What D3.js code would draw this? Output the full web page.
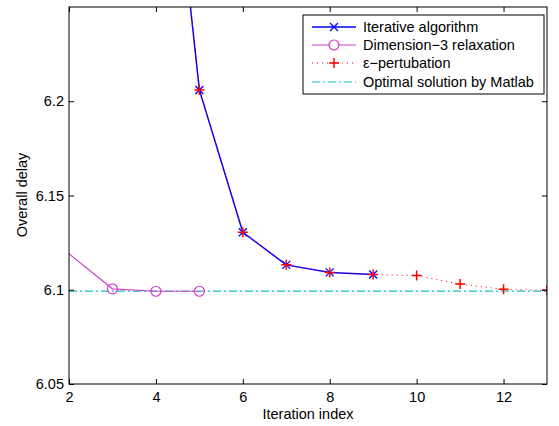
<!DOCTYPE html>
<html>
<head>
<meta charset="utf-8">
<script src="https://cdn.jsdelivr.net/npm/d3@7/dist/d3.min.js"></script>
<style>
  body { margin: 0; background: #fff; }
  svg text { font-family: "Liberation Sans", Arial, sans-serif; }
</style>
</head>
<body>
<svg id="chart"></svg>
<script>
// data
const iterX = [4, 5, 6, 7, 8, 9];
const iterY = [6.42, 6.206, 6.1305, 6.1132, 6.1092, 6.1081];

const dimX = [1, 3, 4, 5];
const dimY = [6.1376, 6.1005, 6.0992, 6.0992];

const epsX = [4, 5, 6, 7, 8, 9, 10, 11, 12, 13];
const epsY = [6.42, 6.206, 6.1305, 6.1132, 6.1092, 6.1081, 6.1075, 6.103, 6.1002, 6.0997];

const optX = [2, 13];
const optY = [6.0993, 6.0993];

const xTicks = [2, 4, 6, 8, 10, 12];
const yTicks = [6.05, 6.1, 6.15, 6.2];

const legendLabels = ["Iterative algorithm", "Dimension\u22123 relaxation", "\u03b5\u2212pertubation", "Optimal solution by Matlab"];

const W = 559, H = 426;
const mLeft = 69, mRight = 547, mTop = 7, mBottom = 384;
const fs = 14.5;

const svg = d3.select("#chart").attr("width", W).attr("height", H);

const x = d3.scaleLinear([2, 13], [mLeft, mRight]);
const y = d3.scaleLinear([6.05, 6.25], [mBottom, mTop]);

svg.append("defs").append("clipPath").attr("id", "clip")
  .append("rect").attr("x", mLeft).attr("y", mTop)
  .attr("width", mRight - mLeft).attr("height", mBottom - mTop);

const plot = svg.append("g").attr("clip-path", "url(#clip)");

const line = d3.line().x(d => x(d[0])).y(d => y(d[1]));
const zip = (a, b) => a.map((v, i) => [v, b[i]]);

const blue = "#0000ff", mag = "#cc44cc", red = "#ff0000", cyan = "#17bfbf";

// optimal solution
plot.append("path").datum(zip(optX, optY)).attr("d", line)
  .attr("fill", "none").attr("stroke", cyan).attr("stroke-width", 1.2)
  .attr("stroke-dasharray", "8,3,2,3");

// dimension-3
plot.append("path").datum(zip(dimX, dimY)).attr("d", line)
  .attr("fill", "none").attr("stroke", mag).attr("stroke-width", 1.2);
plot.selectAll(".dimc").data(zip(dimX, dimY)).join("circle")
  .attr("cx", d => x(d[0])).attr("cy", d => y(d[1])).attr("r", 5)
  .attr("fill", "none").attr("stroke", mag).attr("stroke-width", 1.2);

// iterative
plot.append("path").datum(zip(iterX, iterY)).attr("d", line)
  .attr("fill", "none").attr("stroke", blue).attr("stroke-width", 1.5);
const xMark = (g, d, s, c) => {
  g.append("path")
    .attr("d", `M${x(d[0]) - s},${y(d[1]) - s}L${x(d[0]) + s},${y(d[1]) + s}M${x(d[0]) - s},${y(d[1]) + s}L${x(d[0]) + s},${y(d[1]) - s}`)
    .attr("stroke", c).attr("stroke-width", 1.3);
};
const plusMark = (g, d, s, c) => {
  g.append("path")
    .attr("d", `M${x(d[0]) - s},${y(d[1])}L${x(d[0]) + s},${y(d[1])}M${x(d[0])},${y(d[1]) - s}L${x(d[0])},${y(d[1]) + s}`)
    .attr("stroke", c).attr("stroke-width", 1.5);
};
zip(iterX, iterY).forEach(d => xMark(plot, d, 4, blue));

// eps perturbation
plot.append("path").datum(zip(epsX, epsY)).attr("d", line)
  .attr("fill", "none").attr("stroke", red).attr("stroke-width", 1)
  .attr("stroke-dasharray", "1,4");
zip(epsX, epsY).forEach(d => plusMark(plot, d, 5, red));

// axes box
svg.append("rect").attr("x", mLeft).attr("y", mTop)
  .attr("width", mRight - mLeft).attr("height", mBottom - mTop)
  .attr("fill", "none").attr("stroke", "#000").attr("stroke-width", 1);

const xAxis = svg.append("g").attr("transform", `translate(0,${mBottom})`)
  .call(d3.axisBottom(x).tickValues(xTicks).tickSizeInner(-5).tickSizeOuter(0).tickPadding(7.5).tickFormat(d3.format("d")));
const xAxisTop = svg.append("g").attr("transform", `translate(0,${mTop})`)
  .call(d3.axisTop(x).tickValues(xTicks).tickSizeInner(-5).tickSizeOuter(0).tickFormat(""));
const yAxis = svg.append("g").attr("transform", `translate(${mLeft},0)`)
  .call(d3.axisLeft(y).tickValues(yTicks).tickSizeInner(-5).tickSizeOuter(0).tickPadding(5).tickFormat(d => String(+d.toFixed(2))));
const yAxisRight = svg.append("g").attr("transform", `translate(${mRight},0)`)
  .call(d3.axisRight(y).tickValues(yTicks).tickSizeInner(-5).tickSizeOuter(0).tickFormat(""));

[xAxis, xAxisTop, yAxis, yAxisRight].forEach(a => {
  a.select(".domain").remove();
  a.selectAll("text").attr("font-size", fs).attr("fill", "#000")
    .style("font-family", "'Liberation Sans', Arial, sans-serif");
});

svg.append("text").attr("x", 308).attr("y", 419)
  .attr("text-anchor", "middle").attr("font-size", fs).text("Iteration index");
svg.append("text").attr("transform", `translate(27,195) rotate(-90)`)
  .attr("text-anchor", "middle").attr("font-size", fs).text("Overall delay");

// legend
const lg = svg.append("g");
lg.append("rect").attr("x", 303).attr("y", 15).attr("width", 241).attr("height", 79)
  .attr("fill", "#fff").attr("stroke", "#000").attr("stroke-width", 1);
const rowsY = [27, 45, 63, 82];
const lx0 = 312, lx1 = 356, lxm = 334;
lg.append("line").attr("x1", lx0).attr("x2", lx1).attr("y1", rowsY[0]).attr("y2", rowsY[0])
  .attr("stroke", blue).attr("stroke-width", 1.5);
lg.append("path").attr("d", `M${lxm - 4},${rowsY[0] - 4}L${lxm + 4},${rowsY[0] + 4}M${lxm - 4},${rowsY[0] + 4}L${lxm + 4},${rowsY[0] - 4}`)
  .attr("stroke", blue).attr("stroke-width", 1.3);
lg.append("line").attr("x1", lx0).attr("x2", lx1).attr("y1", rowsY[1]).attr("y2", rowsY[1])
  .attr("stroke", mag).attr("stroke-width", 1.2);
lg.append("circle").attr("cx", lxm).attr("cy", rowsY[1]).attr("r", 5)
  .attr("fill", "#fff").attr("stroke", mag).attr("stroke-width", 1.2);
lg.append("line").attr("x1", lx0).attr("x2", lx1).attr("y1", rowsY[2]).attr("y2", rowsY[2])
  .attr("stroke", red).attr("stroke-width", 1).attr("stroke-dasharray", "1,4");
lg.append("path").attr("d", `M${lxm - 5},${rowsY[2]}L${lxm + 5},${rowsY[2]}M${lxm},${rowsY[2] - 5}L${lxm},${rowsY[2] + 5}`)
  .attr("stroke", red).attr("stroke-width", 1.5);
lg.append("line").attr("x1", lx0).attr("x2", lx1).attr("y1", rowsY[3]).attr("y2", rowsY[3])
  .attr("stroke", cyan).attr("stroke-width", 1.2).attr("stroke-dasharray", "8,3,2,3");
lg.selectAll(".lt").data(legendLabels).join("text")
  .attr("x", 363).attr("y", (d, i) => rowsY[i] + 5)
  .attr("font-size", fs).text(d => d);
</script>
</body>
</html>
